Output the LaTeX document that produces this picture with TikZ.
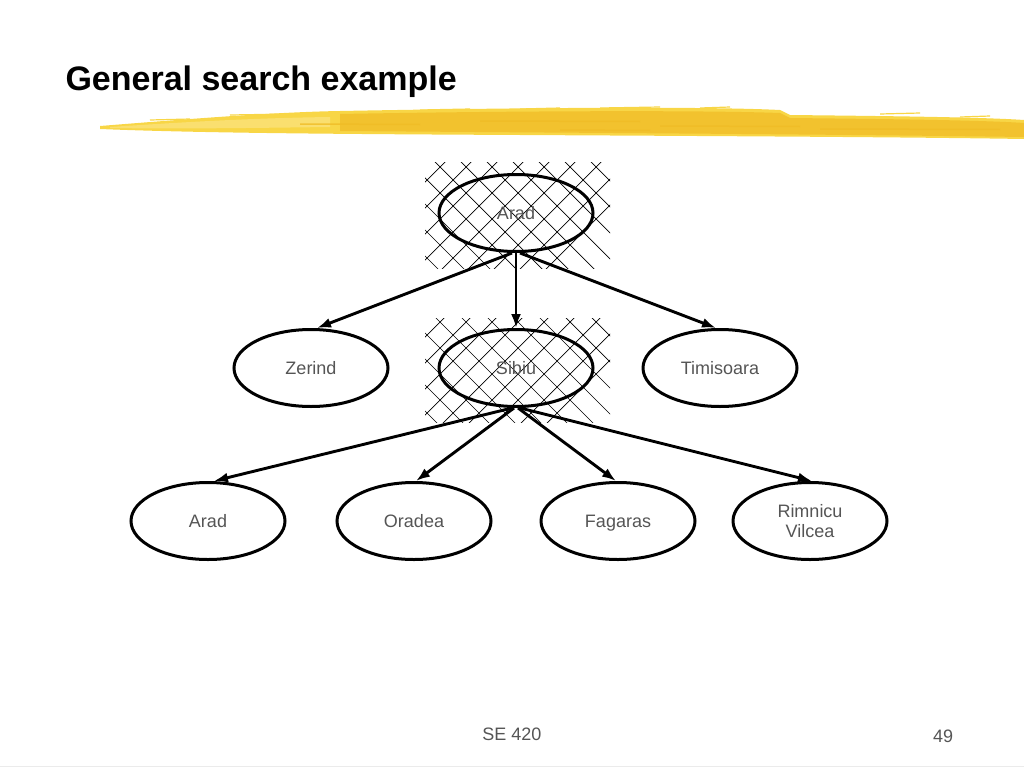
\documentclass[tikz,border=0pt]{standalone}
\usepackage{fontspec}
\setmainfont{Liberation Sans}
\usetikzlibrary{arrows,arrows.meta,shapes.geometric}

\definecolor{brushA}{HTML}{F8D646}
\definecolor{brushB}{HTML}{F0BC26}
\definecolor{brushC}{HTML}{FBE27A}
\definecolor{labelgray}{HTML}{555555}

\tikzset{city/.style={draw,ellipse,line width=3pt,minimum width=154pt,minimum height=77pt,
  inner sep=0pt,text=labelgray,font=\fontsize{18}{20}\selectfont,align=center,
  text height=13pt,text depth=0pt}}
\tikzset{branch/.style={->,line width=2.9pt}}

\begin{document}
\begin{tikzpicture}[>={Latex[length=14pt,width=10pt]},x=1pt,y=-1pt]
\useasboundingbox (0,0) rectangle (1024,768);

\node[anchor=base west,font=\bfseries\fontsize{34}{36}\selectfont] (title) at (62,90) {General search example};

% brush stroke under the title
\fill[brushA] (100,126) .. controls (200,118) and (280,112) .. (340,111) .. controls (500,108) and (700,106) .. (780,110)
  -- (790,115) .. controls (880,116) and (980,117) .. (1024,120)
  -- (1024,139) .. controls (900,137) and (700,136) .. (520,135) .. controls (330,134) and (200,133) .. (100,129) -- cycle;
\fill[brushB,opacity=0.75] (340,114) .. controls (500,111) and (700,110) .. (780,113) -- (790,118)
  .. controls (880,119) and (980,120) .. (1024,123)
  -- (1024,137) .. controls (800,134) and (600,133) .. (340,131) -- cycle;
\fill[brushC,opacity=0.8] (110,127) .. controls (200,121) and (260,118) .. (330,117) -- (330,127) .. controls (250,128) and (180,129) .. (110,128) -- cycle;
\foreach \xa/\ya/\len in {150/120/40, 230/115/60, 320/113/30, 420/110/50, 520/109/40, 600/108/60, 700/108/30, 880/114/40, 960/117/30}{
	\draw[brushA,line width=1.2pt] (\xa,\ya) -- ++(\len,-1);
}
\foreach \xa/\ya/\len in {300/124/120, 480/121/160, 660/126/140, 820/129/180, 560/130/90}{
	\draw[brushB,line width=1.5pt,opacity=0.8] (\xa,\ya) -- ++(\len,0.5);
}

% hatched squares
\begin{scope}
\clip (425,162) rectangle (610,268);
\foreach \k in {-14,...,8}{
	\draw[line width=0.7pt] ({273+26*\k+150},150) -- ({273+26*\k+300},300);
	\draw[line width=0.7pt] ({607+26*\k-150},150) -- ({607+26*\k-300},300);
}
\end{scope}

\begin{scope}
\clip (425,318) rectangle (610,422);
\foreach \k in {-14,...,8}{
	\draw[line width=0.7pt] ({118+26*\k+300},300) -- ({118+26*\k+450},450);
	\draw[line width=0.7pt] ({762+26*\k-300},300) -- ({762+26*\k-450},450);
}
\end{scope}

\node[city] (arad) at (516,213) {Arad};

\node[city] (zerind) at (311,368) {Zerind};
\node[city] (sibiu) at (516,368) {Sibiu};
\node[city] (timisoara) at (720,368) {Timisoara};

\node[city] (arad2) at (208,521) {Arad};
\node[city] (oradea) at (414,521) {Oradea};
\node[city] (fagaras) at (618,521) {Fagaras};
\node[city,text height={},text depth={}] (rimnicu) at (810,521) {Rimnicu\\Vilcea};

\draw[branch] ([xshift=-4pt]arad.south) -- ([xshift=6pt]zerind.north);
\draw[branch] (arad.south) -- (sibiu.north);
\draw[branch] ([xshift=4pt]arad.south) -- ([xshift=-4pt]timisoara.north);

\draw[branch] ([xshift=-4pt]sibiu.south) -- ([xshift=6pt]arad2.north);
\draw[branch] ([xshift=-2pt]sibiu.south) -- ([xshift=2pt]oradea.north);
\draw[branch] ([xshift=2pt]sibiu.south) -- ([xshift=-2pt]fagaras.north);
\draw[branch] ([xshift=4pt]sibiu.south) -- ([xshift=2pt]rimnicu.north);

\node[anchor=base,text=labelgray,font=\fontsize{18}{20}\selectfont] (course) at (512,740) {SE 420};
\node[anchor=base,text=labelgray,font=\fontsize{18}{20}\selectfont] (page) at (943,742) {49};

\draw[black!8,line width=1pt] (0,766) -- (1024,766);

\end{tikzpicture}
\end{document}
